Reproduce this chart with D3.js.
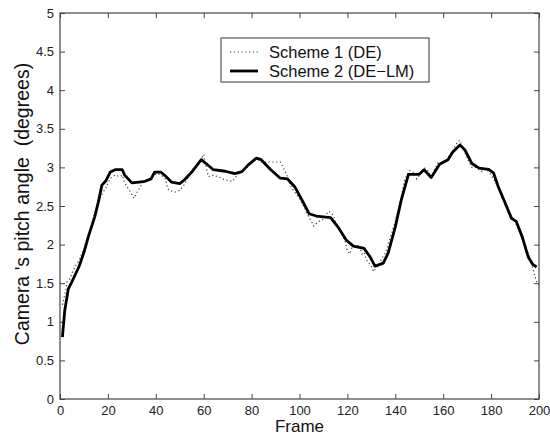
<!DOCTYPE html>
<html>
<head>
<meta charset="utf-8">
<script src="https://cdn.jsdelivr.net/npm/d3@7"></script>
<style>
  html, body { margin: 0; padding: 0; background: #fff; }
  svg { display: block; font-family: "Liberation Sans", Arial, sans-serif; }
</style>
</head>
<body>
<svg id="chart" width="550" height="441"></svg>
<script>
// Pitch angle estimated by the two schemes, per frame
const scheme1Frames = [1,2,3,4,6,8,10,12,14,16,18,19,21,23,25,26,27,28,29,30,31,32,33,35,37,39,41,43,44,45,46,48,50,52,54,56,58,60,61,62,64,66,68,70,72,74,76,78,80,82,84,86,88,90,92,94,95,96,97,98,100,102,104,105,106,108,110,112,113,114,115,117,119,120,121,122,124,125,126,127,128,130,131,132,133,134,136,138,140,142,144,146,148,149,150,152,154,155,156,158,160,162,164,166,167,168,170,172,174,176,178,180,182,184,186,188,190,192,194,196,198,199,200];
const scheme1Values = [1.22,1.35,1.52,1.55,1.70,1.80,1.95,2.15,2.35,2.55,2.68,2.72,2.86,2.90,2.88,2.90,2.80,2.75,2.70,2.65,2.60,2.67,2.72,2.82,2.85,2.90,2.92,2.88,2.85,2.72,2.70,2.68,2.70,2.78,2.90,3.00,3.05,3.17,3.00,2.88,2.90,2.88,2.85,2.83,2.82,2.90,2.96,3.00,3.05,3.12,3.07,3.07,3.07,3.07,3.07,2.95,2.88,2.78,2.72,2.68,2.60,2.48,2.35,2.30,2.24,2.30,2.33,2.43,2.42,2.38,2.30,2.18,2.05,1.92,1.88,1.97,1.98,2.00,1.88,1.90,1.80,1.72,1.65,1.70,1.73,1.80,1.90,2.10,2.30,2.55,2.85,2.96,2.93,2.85,2.90,3.00,2.95,2.85,2.95,3.07,3.05,3.12,3.22,3.33,3.35,3.28,3.12,3.00,3.00,2.95,2.98,2.90,2.80,2.65,2.50,2.40,2.30,2.15,2.00,1.85,1.62,1.52,1.48];

const scheme2Frames = [1,2,3.5,5,8,10,12,14.5,16,17.5,19,21,23,26,27,30,33,35.5,38,39.5,42,44,46.5,50,52,55,57,59,61,64,69,73,76,78.5,82,84,88,92,95,98,101,104,107,110,113,116,119.5,122.5,127,129.5,131.5,135,137,140,142.5,145.5,150,152,155,158.5,162,164,167,169,172,175,179,181,183,186,188.5,190.5,193,195.5,197.5,199];
const scheme2Values = [0.80,1.15,1.43,1.52,1.72,1.90,2.12,2.36,2.55,2.77,2.82,2.94,2.97,2.97,2.90,2.80,2.81,2.82,2.85,2.94,2.94,2.89,2.81,2.79,2.84,2.94,3.02,3.10,3.05,2.97,2.95,2.92,2.945,3.03,3.12,3.10,2.97,2.86,2.85,2.75,2.58,2.40,2.37,2.36,2.35,2.23,2.06,1.98,1.95,1.84,1.72,1.76,1.89,2.23,2.58,2.91,2.91,2.97,2.87,3.04,3.10,3.20,3.29,3.23,3.05,2.99,2.975,2.93,2.75,2.53,2.34,2.30,2.10,1.84,1.74,1.71];

const xTicks = [0,20,40,60,80,100,120,140,160,180,200];
const yTicks = [0,0.5,1,1.5,2,2.5,3,3.5,4,4.5,5];
const legendLabels = ["Scheme 1 (DE)", "Scheme 2 (DE\u2212LM)"];

const svg = d3.select("#chart");
const plot = { left: 60, right: 539, top: 13, bottom: 399 };

const x = d3.scaleLinear().domain([0, 200]).range([plot.left, plot.right]);
const y = d3.scaleLinear().domain([0, 5]).range([plot.bottom, plot.top]);

const axisColor = "#444";
const tickLen = 5;

function styleAxis(g, hideLabels) {
  g.select(".domain").remove();
  g.selectAll(".tick line").attr("stroke", axisColor).attr("stroke-width", 1);
  g.selectAll(".tick text")
    .attr("fill", "#222")
    .style("font-size", "13px")
    .style("font-family", "'Liberation Sans', Arial, sans-serif");
  if (hideLabels) g.selectAll(".tick text").remove();
}

// bottom / left axes with labels, inward ticks
svg.append("g")
  .attr("transform", `translate(0,${plot.bottom})`)
  .call(d3.axisBottom(x).tickValues(xTicks).tickSizeInner(-tickLen).tickSizeOuter(0).tickPadding(7).tickFormat(d3.format("d")))
  .call(g => styleAxis(g, false));

svg.append("g")
  .attr("transform", `translate(${plot.left},0)`)
  .call(d3.axisLeft(y).tickValues(yTicks).tickSizeInner(-tickLen).tickSizeOuter(0).tickPadding(6).tickFormat(d => String(d)))
  .call(g => styleAxis(g, false));

// mirrored ticks on top / right
svg.append("g")
  .attr("transform", `translate(0,${plot.top})`)
  .call(d3.axisTop(x).tickValues(xTicks).tickSizeInner(-tickLen).tickSizeOuter(0))
  .call(g => styleAxis(g, true));

svg.append("g")
  .attr("transform", `translate(${plot.right},0)`)
  .call(d3.axisRight(y).tickValues(yTicks).tickSizeInner(-tickLen).tickSizeOuter(0))
  .call(g => styleAxis(g, true));

// frame box
svg.append("rect")
  .attr("x", plot.left).attr("y", plot.top)
  .attr("width", plot.right - plot.left).attr("height", plot.bottom - plot.top)
  .attr("fill", "none").attr("stroke", axisColor).attr("stroke-width", 1.2);

const line = d3.line().x(d => x(d[0])).y(d => y(d[1]));

const s1 = scheme1Frames.map((f, i) => [f, scheme1Values[i]]);
const s2 = scheme2Frames.map((f, i) => [f, scheme2Values[i]]);

svg.append("path")
  .datum(s1)
  .attr("d", line)
  .attr("fill", "none")
  .attr("stroke", "#444")
  .attr("stroke-width", 1.2)
  .attr("stroke-dasharray", "1.2,2.6");

svg.append("path")
  .datum(s2)
  .attr("d", line)
  .attr("fill", "none")
  .attr("stroke", "#000")
  .attr("stroke-width", 2.8)
  .attr("stroke-linejoin", "round");

// legend
const lg = svg.append("g");
lg.append("rect")
  .attr("x", 221).attr("y", 38).attr("width", 208).attr("height", 44)
  .attr("fill", "#fff").attr("stroke", "#555").attr("stroke-width", 1.2);
const legendRows = [
  { label: legendLabels[0], y: 52, dash: "1.2,2.6", w: 1.2, c: "#444" },
  { label: legendLabels[1], y: 71, dash: null, w: 2.8, c: "#000" }
];
legendRows.forEach(r => {
  lg.append("line")
    .attr("x1", 230).attr("x2", 258).attr("y1", r.y).attr("y2", r.y)
    .attr("stroke", r.c).attr("stroke-width", r.w)
    .attr("stroke-dasharray", r.dash);
  lg.append("text")
    .attr("x", 269).attr("y", r.y).attr("dy", "0.35em")
    .attr("fill", "#111")
    .style("font-size", "16.5px")
    .text(r.label);
});

// axis titles
svg.append("text")
  .attr("x", (plot.left + plot.right) / 2).attr("y", 432)
  .attr("text-anchor", "middle").attr("fill", "#111")
  .style("font-size", "17px")
  .text("Frame");

svg.append("text")
  .attr("transform", "translate(29,204) rotate(-90)")
  .attr("text-anchor", "middle").attr("fill", "#111")
  .style("font-size", "19.5px")
  .attr("xml:space", "preserve")
  .text("Camera 's pitch angle  (degrees)");
</script>
</body>
</html>
